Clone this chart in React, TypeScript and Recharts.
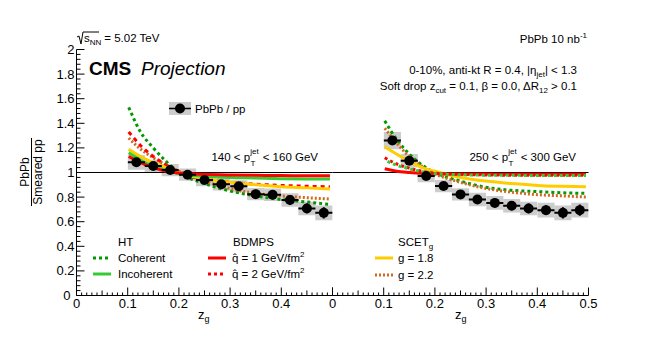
import React from 'react';
import { ComposedChart, Line, Scatter, ErrorBar, XAxis, YAxis, ReferenceLine, ReferenceArea } from 'recharts';

const FONT = '"Liberation Sans", Arial, Helvetica, sans-serif';

// measured PbPb / smeared pp, z_g bin centres
const zgBins = [0.117, 0.15, 0.183, 0.217, 0.25, 0.283, 0.317, 0.35, 0.383, 0.417, 0.45, 0.483];
const binHalf = 0.0167;
const ratioLowPt = [1.083, 1.053, 1.02, 0.982, 0.939, 0.904, 0.888, 0.824, 0.819, 0.776, 0.708, 0.672];
const statLowPt = [0.03, 0.03, 0.03, 0.03, 0.03, 0.03, 0.035, 0.035, 0.035, 0.04, 0.04, 0.045];
const sysLowPt = [0.06, 0.05, 0.05, 0.05, 0.05, 0.05, 0.05, 0.05, 0.05, 0.055, 0.055, 0.06];
const ratioHighPt = [1.26, 1.096, 0.971, 0.89, 0.822, 0.781, 0.753, 0.729, 0.708, 0.694, 0.672, 0.694];
const statHighPt = [0.035, 0.03, 0.03, 0.03, 0.03, 0.035, 0.035, 0.035, 0.04, 0.04, 0.045, 0.045];
const sysHighPt = [0.07, 0.055, 0.05, 0.05, 0.05, 0.055, 0.055, 0.055, 0.055, 0.06, 0.06, 0.06];

// theory curves
const zgTheory = [0.102, 0.125, 0.15, 0.175, 0.2, 0.25, 0.3, 0.35, 0.4, 0.45, 0.495];
const htCohLow = [1.53, 1.33, 1.2, 1.09, 1.0, 0.91, 0.85, 0.81, 0.78, 0.76, 0.74];
const htIncLow = [1.16, 1.1, 1.05, 1.02, 0.99, 0.97, 0.96, 0.955, 0.95, 0.948, 0.947];
const bdmps1Low = [1.13, 1.08, 1.04, 1.01, 0.995, 0.985, 0.98, 0.977, 0.975, 0.974, 0.973];
const bdmps2Low = [1.33, 1.22, 1.13, 1.06, 1.0, 0.95, 0.92, 0.905, 0.895, 0.888, 0.884];
const scet18Low = [1.19, 1.13, 1.08, 1.04, 1.0, 0.95, 0.92, 0.9, 0.885, 0.875, 0.865];
const scet22Low = [1.28, 1.19, 1.12, 1.06, 1.01, 0.93, 0.87, 0.83, 0.81, 0.795, 0.785];

const htCohHigh = [1.42, 1.27, 1.15, 1.06, 1.0, 0.93, 0.88, 0.855, 0.845, 0.835, 0.83];
const htIncHigh = [1.1, 1.06, 1.03, 1.005, 0.99, 0.982, 0.978, 0.977, 0.976, 0.975, 0.975];
const bdmps1High = [1.03, 1.01, 1.0, 0.993, 0.99, 0.988, 0.987, 0.986, 0.986, 0.986, 0.986];
const bdmps2High = [1.12, 1.07, 1.035, 1.01, 0.995, 0.985, 0.98, 0.978, 0.977, 0.977, 0.977];
const scet18High = [1.21, 1.15, 1.09, 1.04, 1.01, 0.96, 0.93, 0.91, 0.895, 0.888, 0.884];
const scet22High = [1.36, 1.24, 1.13, 1.05, 0.99, 0.92, 0.87, 0.84, 0.82, 0.81, 0.8];

const C_COH = '#009900';
const C_INC = '#33cc33';
const C_RED = '#ff0000';
const C_YEL = '#ffcc00';
const C_ORG = '#d2691e';

// axis tick positions
const xTickVals = Array.from({ length: 51 }, (_, i) => i / 100);
const yLeftTicks = Array.from({ length: 51 }, (_, i) => (i * 4) / 100);
const yTenthTicks = Array.from({ length: 21 }, (_, i) => i / 10);

type Curve = { ys: number[]; color: string; dash?: string; offset?: number };

const xLen = (k: number) => (k % 10 === 0 ? 8 : k % 5 === 0 ? 5 : 3);

const bottomTick = (maxLabel: number) => (p: any) => {
  const k = Math.round(p.payload.value * 100);
  return (
    <g>
      <line x1={p.x} x2={p.x} y1={p.y} y2={p.y - xLen(k)} stroke="#000" />
      {k % 10 === 0 && k <= maxLabel && (
        <text x={p.x} y={p.y + 12} textAnchor="middle" fontSize={13} fontFamily={FONT} fill="#000">
          {k / 100}
        </text>
      )}
    </g>
  );
};

const topTick = (p: any) => {
  const k = Math.round(p.payload.value * 100);
  return <line x1={p.x} x2={p.x} y1={p.y} y2={p.y + xLen(k)} stroke="#000" />;
};

const leftLabelTick = (p: any) => {
  const k = Math.round(p.payload.value * 100);
  const major = k % 20 === 0;
  return (
    <g>
      <line x1={p.x} x2={p.x + (major ? 8 : 4)} y1={p.y} y2={p.y} stroke="#000" />
      {major && (
        <text x={p.x - (k === 0 ? 6 : 2)} y={p.y + 4.5} textAnchor="end" fontSize={13} fontFamily={FONT} fill="#000">
          {k / 100}
        </text>
      )}
    </g>
  );
};

const sideTick = (dir: number) => (p: any) => {
  const k = Math.round(p.payload.value * 10);
  return <line x1={p.x} x2={p.x + dir * (k % 5 === 0 ? 7 : 4)} y1={p.y} y2={p.y} stroke="#000" />;
};

type PanelProps = {
  left: number;
  ratios: number[];
  stat: number[];
  sys: number[];
  curves: Curve[];
  maxLabel: number;
  yLabels: boolean;
};

function Panel({ left, ratios, stat, sys, curves, maxLabel, yLabels }: PanelProps) {
  const pts = zgBins.map((x, i) => ({ x, y: ratios[i], ex: binHalf, ey: stat[i] }));
  return (
    <div style={{ position: 'absolute', left: 0, top: 0, transform: 'translate(0.5px, 0.5px)' }}>
      <ComposedChart
        width={664}
        height={345}
        margin={{ top: 49, right: yLabels ? 332 : 76, bottom: 0, left: yLabels ? 0 : left }}
      >
        <XAxis
          xAxisId={0}
          dataKey="x"
          type="number"
          domain={[0, 0.5]}
          allowDataOverflow
          ticks={xTickVals}
          interval={0}
          tickSize={0}
          tickMargin={0}
          tickLine={false}
          axisLine={{ stroke: '#000' }}
          height={50}
          tick={bottomTick(maxLabel)}
        />
        <XAxis
          xAxisId="top"
          orientation="top"
          dataKey="x"
          type="number"
          domain={[0, 0.5]}
          allowDataOverflow
          ticks={xTickVals}
          interval={0}
          tickSize={0}
          tickMargin={0}
          tickLine={false}
          axisLine={{ stroke: '#000' }}
          height={0}
          tick={topTick}
        />
        <YAxis
          yAxisId={0}
          type="number"
          domain={[0, 2]}
          allowDataOverflow
          ticks={yLabels ? yLeftTicks : yTenthTicks}
          interval={0}
          tickSize={0}
          tickMargin={0}
          tickLine={false}
          axisLine={{ stroke: '#000' }}
          width={yLabels ? 76 : 0}
          tick={yLabels ? leftLabelTick : sideTick(1)}
        />
        <YAxis
          yAxisId="r"
          orientation="right"
          type="number"
          domain={[0, 2]}
          allowDataOverflow
          ticks={yTenthTicks}
          interval={0}
          tickSize={0}
          tickMargin={0}
          tickLine={false}
          axisLine={{ stroke: '#000' }}
          width={0}
          tick={sideTick(-1)}
        />
        {pts.map((d, i) => (
          <ReferenceArea
            key={'sys' + i}
            x1={d.x - binHalf}
            x2={d.x + binHalf}
            y1={d.y - sys[i]}
            y2={d.y + sys[i]}
            fill="#cccccc"
            fillOpacity={1}
            stroke="none"
          />
        ))}
        <ReferenceLine y={1} stroke="#000" strokeWidth={1} />
        {curves.map((c, i) => (
          <Line
            key={'c' + i}
            data={zgTheory.map((x, j) => ({ x, y: c.ys[j] }))}
            dataKey="y"
            type="monotone"
            stroke={c.color}
            strokeWidth={3}
            strokeDasharray={c.dash}
            strokeDashoffset={c.offset}
            dot={false}
            isAnimationActive={false}
          />
        ))}
        <Scatter
          data={pts}
          dataKey="y"
          isAnimationActive={false}
          shape={(p: any) => <circle cx={p.cx} cy={p.cy} r={5} fill="#000" />}
        >
          <ErrorBar dataKey="ex" direction="x" width={0} stroke="#000" strokeWidth={2} />
          <ErrorBar dataKey="ey" direction="y" width={0} stroke="#000" strokeWidth={2} />
        </Scatter>
      </ComposedChart>
    </div>
  );
}

const lowCurves: Curve[] = [
  { ys: htCohLow, color: C_COH, dash: '3 3' },
  { ys: scet22Low, color: C_ORG, dash: '2 2' },
  { ys: bdmps2Low, color: C_RED, dash: '4 4' },
  { ys: scet18Low, color: C_YEL },
  { ys: htIncLow, color: C_INC },
  { ys: bdmps1Low, color: C_RED },
];

const highCurves: Curve[] = [
  { ys: htCohHigh, color: C_COH, dash: '3 3' },
  { ys: scet22High, color: C_ORG, dash: '2 2' },
  { ys: scet18High, color: C_YEL },
  { ys: bdmps1High, color: C_RED },
  { ys: bdmps2High, color: C_RED, dash: '3 3' },
  { ys: htIncHigh, color: C_INC, dash: '3 3', offset: 3 },
];

const T = (props: any) => <text fontFamily={FONT} fontSize={11.5} fill="#000" {...props} />;

function Legend() {
  const row = (x: number, y: number, color: string, dash?: string) => (
    <line x1={x} x2={x + 18} y1={y} y2={y} stroke={color} strokeWidth={3} strokeDasharray={dash} />
  );
  return (
    <svg width={664} height={345} style={{ position: 'absolute', left: 0, top: 0 }}>
      <path d="M77,37 L79,36 L81,44 L83,32 L99,32" fill="none" stroke="#000" strokeWidth={1} />
      <T x={84} y={42}>
        s<tspan fontSize={8} dy={3}>NN</tspan>
        <tspan dy={-3} dx={3}>= 5.02 TeV</tspan>
      </T>
      <T x={587} y={43} textAnchor="end">
        PbPb 10 nb<tspan fontSize={8} dy={-5}>-1</tspan>
      </T>
      <text x={89} y={75} fontFamily={FONT} fontSize={19} fontWeight="bold">CMS</text>
      <text x={141} y={75} fontFamily={FONT} fontSize={19} fontStyle="italic">Projection</text>

      <rect x={169} y={102} width={22} height={13} fill="#cccccc" />
      <line x1={169} x2={191} y1={108.5} y2={108.5} stroke="#000" strokeWidth={1.5} />
      <circle cx={180} cy={108.5} r={5} fill="#000" />
      <T x={195} y={113}>PbPb / pp</T>

      <T x={577} y={74} textAnchor="end">
        0-10%, anti-kt R = 0.4, |η<tspan fontSize={8} dy={3}>jet</tspan>
        <tspan dy={-3}>| &lt; 1.3</tspan>
      </T>
      <T x={577} y={90} textAnchor="end">
        Soft drop z<tspan fontSize={8} dy={3}>cut</tspan>
        <tspan dy={-3}> = 0.1, β = 0.0, ΔR</tspan>
        <tspan fontSize={8} dy={3}>12</tspan>
        <tspan dy={-3}> &gt; 0.1</tspan>
      </T>

      <T x={318} y={161} textAnchor="end">
        140 &lt; p<tspan fontSize={8} dy={-7}>jet</tspan>
        <tspan fontSize={8} dx={-8} dy={12}>T</tspan>
        <tspan dx={4} dy={-5}> &lt; 160 GeV</tspan>
      </T>
      <T x={576} y={161} textAnchor="end">
        250 &lt; p<tspan fontSize={8} dy={-7}>jet</tspan>
        <tspan fontSize={8} dx={-8} dy={12}>T</tspan>
        <tspan dx={4} dy={-5}> &lt; 300 GeV</tspan>
      </T>

      <T x={118} y={246}>HT</T>
      {row(93, 258, C_COH, '3 3')}
      <T x={118} y={262}>Coherent</T>
      {row(93, 274, C_INC)}
      <T x={118} y={278}>Incoherent</T>

      <T x={233} y={246}>BDMPS</T>
      {row(208, 258, C_RED)}
      <T x={232} y={262}>
        q̂ = 1 GeV/fm<tspan fontSize={8} dy={-5}>2</tspan>
      </T>
      {row(208, 274, C_RED, '3 3')}
      <T x={232} y={278}>
        q̂ = 2 GeV/fm<tspan fontSize={8} dy={-5}>2</tspan>
      </T>

      <T x={398} y={246}>
        SCET<tspan fontSize={8} dy={3}>g</tspan>
      </T>
      {row(375, 258, C_YEL)}
      <T x={398} y={262}>g = 1.8</T>
      {row(375, 275, C_ORG, '2 2')}
      <T x={398} y={279}>g = 2.2</T>

      <text x={198} y={319} fontFamily={FONT} fontSize={13}>
        z<tspan fontSize={9} dy={3}>g</tspan>
      </text>
      <text x={455} y={319} fontFamily={FONT} fontSize={13}>
        z<tspan fontSize={9} dy={3}>g</tspan>
      </text>

      <g fontFamily={FONT} fontSize={12}>
        <text x={29} y={172} textAnchor="middle" transform="rotate(-90 29 172)">PbPb</text>
        <line x1={31.5} x2={31.5} y1={138} y2={206} stroke="#000" strokeWidth={1} />
        <text x={42} y={172} textAnchor="middle" transform="rotate(-90 42 172)">Smeared pp</text>
      </g>
    </svg>
  );
}

export default function App() {
  return (
    <div style={{ position: 'relative', width: 664, height: 345, margin: -8, background: '#fff', overflow: 'hidden' }}>
      <Panel left={0} ratios={ratioLowPt} stat={statLowPt} sys={sysLowPt} curves={lowCurves} maxLabel={40} yLabels />
      <Panel left={332} ratios={ratioHighPt} stat={statHighPt} sys={sysHighPt} curves={highCurves} maxLabel={50} yLabels={false} />
      <Legend />
    </div>
  );
}
